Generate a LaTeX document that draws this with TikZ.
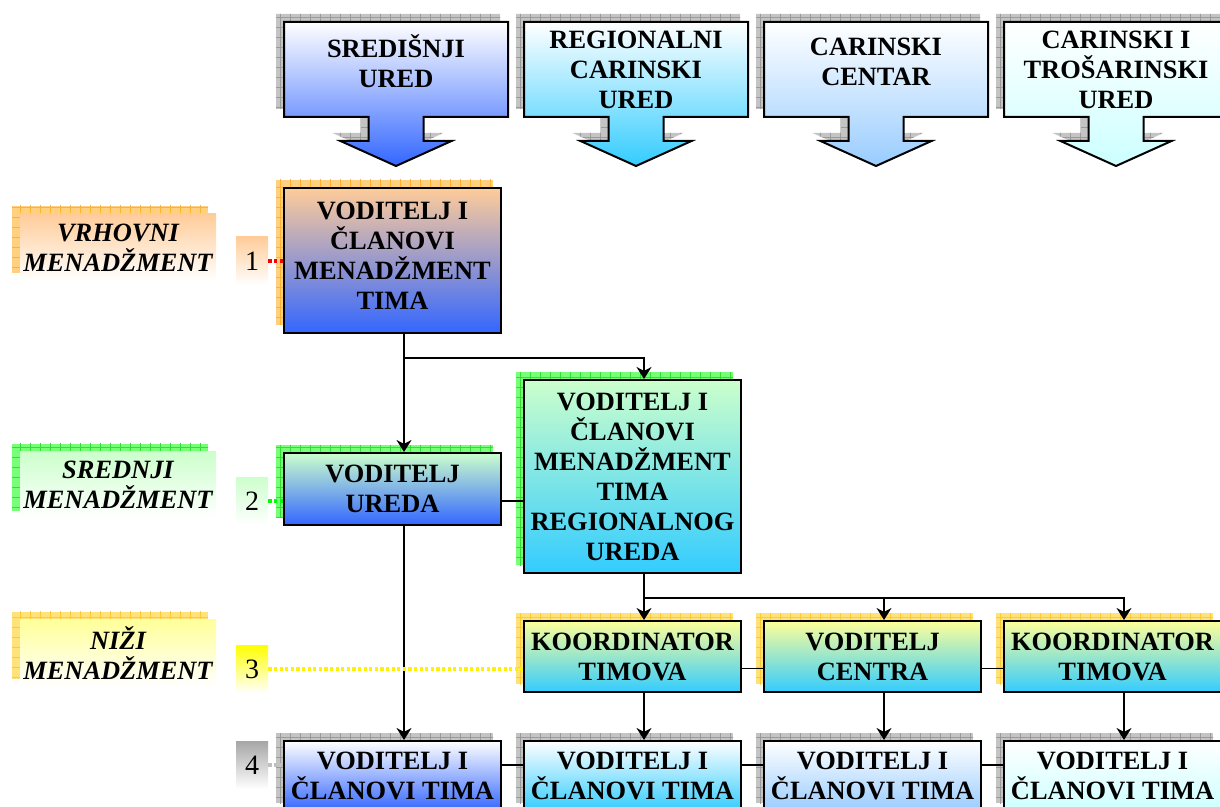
\documentclass[tikz,border=0pt]{standalone}
\usepackage{fontspec}
\setmainfont{Liberation Serif}
\usetikzlibrary{arrows.meta,shapes.arrows,shadows,patterns.meta}
\definecolor{blu}{HTML}{3366FF}
\definecolor{cyn}{HTML}{33CCFF}
\definecolor{lbl}{HTML}{99CCFF}
\definecolor{pcy}{HTML}{CCFFFF}
\definecolor{org}{HTML}{FFCC99}
\definecolor{grn}{HTML}{CCFFCC}
\definecolor{ylw}{HTML}{FFFF99}
\definecolor{shOr}{HTML}{FFD080}
\definecolor{shOrL}{HTML}{FFB22E}
\definecolor{shGr}{HTML}{77FF77}
\definecolor{shGrL}{HTML}{33DD33}
\definecolor{shYl}{HTML}{FFE27A}
\definecolor{shYlL}{HTML}{FFC933}
\definecolor{shGy}{HTML}{C4C4C4}
\definecolor{shGyL}{HTML}{9A9A9A}
\newcommand\bxfont{\fontsize{13.2}{15}\selectfont\bfseries}
\newcommand\lvfont{\fontsize{13.2}{15}\selectfont\bfseries\itshape}
\tikzset{
  >={Stealth[length=6pt,width=7.5pt]},
  box/.style={draw,line width=1pt,minimum width=108.5pt,inner ysep=2pt,inner xsep=1pt,
              align=center,font=\bxfont},
  call/.style={arrow box,draw,line width=1pt,minimum width=112pt,minimum height=47.5pt,
               inner sep=2pt,align=center,font=\bxfont,
               arrow box arrows={south:24pt},arrow box shaft width=27.5pt,
               arrow box head extend=14pt,arrow box head indent=0pt,arrow box tip angle=131.5},
  shd/.style 2 args={general shadow={shadow xshift=-4pt,shadow yshift=4pt,fill=#1},
                     general shadow={shadow xshift=-4pt,shadow yshift=4pt,
                       pattern={Hatch[angle=0,distance=5pt,line width=0.4pt]},pattern color=#2}},
  lvl/.style={minimum width=98pt,minimum height=33.5pt,inner sep=1pt,align=center,font=\lvfont},
  nr/.style={minimum width=16pt,minimum height=24pt,inner sep=0pt,font=\fontsize{14}{16}\selectfont},
  ln/.style={line width=0.8pt},
  lvline/.style={line width=2pt,dash pattern=on 1.6pt off 1.2pt,draw=#1}
}
\begin{document}
\begin{tikzpicture}[x=0.5pt,y=-0.5pt]
  \useasboundingbox (0,0) rectangle (1220,807);
  % ---- top callouts ----
  \node[call,shd={shGy}{shGyL},top color=white,bottom color=blu,text depth=8pt] (sred) at (396,69.5) {SREDIŠNJI\\URED};
  \node[call,shd={shGy}{shGyL},top color=white,bottom color=cyn] (regc) at (636,69.5) {REGIONALNI\\CARINSKI\\URED};
  \node[call,shd={shGy}{shGyL},top color=white,bottom color=lbl,text depth=8pt] (cent) at (876,69.5) {CARINSKI\\CENTAR};
  \node[call,shd={shGy}{shGyL},top color=white,bottom color=pcy] (tros) at (1116,69.5) {CARINSKI I\\TROŠARINSKI\\URED};

  % ---- levels on the left ----
  \node[lvl,shd={shOr}{shOrL},top color=org,bottom color=white] (lv1) at (118,247.5) {VRHOVNI\\MENADŽMENT};
  \node[lvl,shd={shGr}{shGrL},top color=grn,bottom color=white] (lv2) at (118,485) {SREDNJI\\MENADŽMENT};
  \node[lvl,shd={shYl}{shYlL},top color=ylw,bottom color=white] (lv3) at (118,653) {NIŽI\\MENADŽMENT};
  \node[nr,top color=org,bottom color=white] (nr1) at (252,261) {1};
  \node[nr,top color=grn,bottom color=white] (nr2) at (252,501) {2};
  \node[nr,top color=yellow,bottom color=white] (nr3) at (252,669) {3};
  \node[nr,top color=black!35,bottom color=white] (nr4) at (252,765) {4};

  % ---- boxes ----
  \node[box,minimum height=72.5pt,shd={shOr}{shOrL},top color=org,bottom color=blu,text depth=5pt] (vmt) at (392.5,260.5)
    {VODITELJ I\\ČLANOVI\\MENADŽMENT\\TIMA};
  \node[box,minimum height=36pt,shd={shGr}{shGrL},top color=grn,bottom color=blu] (vu) at (392.5,489)
    {VODITELJ\\UREDA};
  \node[box,minimum height=96.5pt,shd={shGr}{shGrL},top color=grn,bottom color=cyn] (vrm) at (632.5,476.5)
    {VODITELJ I\\ČLANOVI\\MENADŽMENT\\TIMA\\REGIONALNOG\\UREDA};
  \node[box,minimum height=35.5pt,shd={shYl}{shYlL},top color=ylw,bottom color=cyn] (kt1) at (632.5,656.5) {KOORDINATOR\\TIMOVA};
  \node[box,minimum height=35.5pt,shd={shYl}{shYlL},top color=ylw,bottom color=cyn] (vc) at (872.5,656.5) {VODITELJ\\CENTRA};
  \node[box,minimum height=35.5pt,shd={shYl}{shYlL},top color=ylw,bottom color=cyn] (kt2) at (1112.5,656.5) {KOORDINATOR\\TIMOVA};
  \node[box,minimum height=35pt,shd={shGy}{shGyL},top color=white,bottom color=blu] (t1) at (392.5,776) {VODITELJ I\\ČLANOVI TIMA};
  \node[box,minimum height=35pt,shd={shGy}{shGyL},top color=white,bottom color=cyn] (t2) at (632.5,776) {VODITELJ I\\ČLANOVI TIMA};
  \node[box,minimum height=35pt,shd={shGy}{shGyL},top color=white,bottom color=lbl] (t3) at (872.5,776) {VODITELJ I\\ČLANOVI TIMA};
  \node[box,minimum height=35pt,shd={shGy}{shGyL},top color=white,bottom color=pcy] (t4) at (1112.5,776) {VODITELJ I\\ČLANOVI TIMA};

  % ---- connectors ----
  \draw[ln,->] ([xshift=5.75pt]vmt.south) -- ([xshift=5.75pt]vu.north);
  \draw[ln,->] ([xshift=5.75pt]vmt.south) -- ++(0,24) -| ([xshift=5.75pt]vrm.north);
  \draw[ln] ([yshift=-6pt]vu.east) -- ([yshift=-6pt]vu.east -| vrm.west);
  \draw[ln,->] ([xshift=5.75pt]vu.south) -- ([xshift=5.75pt]t1.north);
  \draw[ln,->] ([xshift=5.75pt]vrm.south) -- ([xshift=5.75pt]kt1.north);
  \coordinate (bus) at ([xshift=5.75pt,yshift=-12pt]vrm.south);
  \draw[ln,->] (bus) -| ([xshift=5.75pt]vc.north);
  \draw[ln,->] (bus) -| ([xshift=5.75pt]kt2.north);
  \draw[ln] ([yshift=-6pt]kt1.east) -- ([yshift=-6pt]kt1.east -| vc.west);
  \draw[ln] ([yshift=-6pt]vc.east) -- ([yshift=-6pt]vc.east -| kt2.west);
  \foreach \a/\b in {kt1/t2,vc/t3,kt2/t4}
    \draw[ln,->] ([xshift=5.75pt]\a.south) -- ([xshift=5.75pt]\b.north);
  \foreach \a/\b in {t1/t2,t2/t3,t3/t4}
    \draw[ln] ([yshift=5.5pt]\a.east) -- ([yshift=5.5pt]\a.east -| \b.west);

  % ---- level markers ----
  \draw[lvline=red] (nr1.east) -- (nr1.east -| vmt.west);
  \draw[lvline=green] (nr2.east) -- (nr2.east -| vu.west);
  \draw[lvline=yellow] (nr3.east) -- (nr3.east -| kt1.west);
  \draw[lvline=black!25] (nr4.east) -- (nr4.east -| t1.west);
\end{tikzpicture}
\end{document}
